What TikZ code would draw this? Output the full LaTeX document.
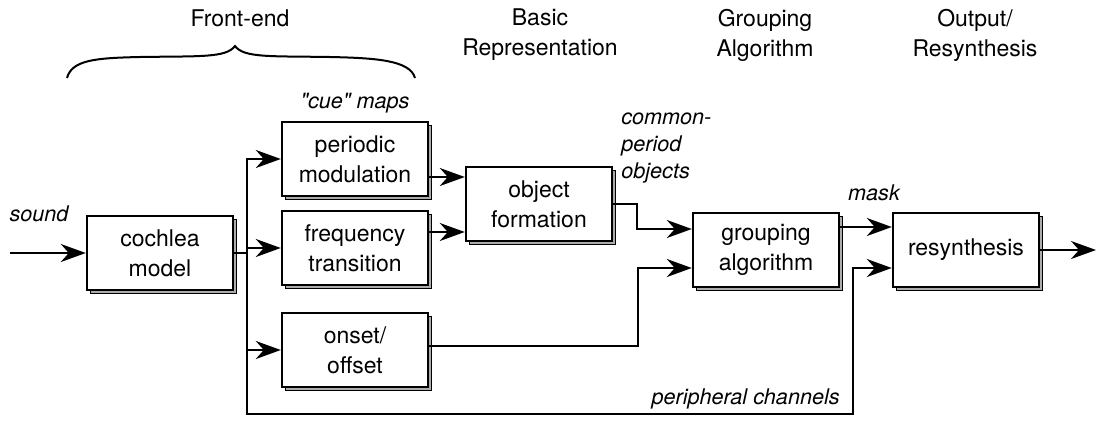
\documentclass[tikz,border=0pt]{standalone}
\usepackage{fontspec}
\setmainfont{TeX Gyre Heros}
\usetikzlibrary{arrows.meta,calc,shadows}

\tikzset{
  block/.style={draw, line width=1.2pt, fill=white, minimum width=73pt, minimum height=37pt,
    inner sep=2pt, align=center, font=\fontsize{11.5}{15}\selectfont,
    copy shadow={shadow xshift=1.6pt, shadow yshift=-1.6pt, fill=gray!65, draw=black, line width=0.7pt}},
  flow/.style={line width=0.9pt, -{Stealth[length=12.5pt,width=9pt,inset=4pt]}},
  wire/.style={line width=0.9pt},
  cue/.style={font=\fontsize{10.8}{13.5}\selectfont\itshape, align=left, inner sep=0pt},
  head/.style={font=\fontsize{11.5}{15}\selectfont, align=center, inner sep=0pt},
}

\begin{document}
\begin{tikzpicture}[x=0.5pt,y=-0.5pt]
\useasboundingbox (0,0) rectangle (1098,424);

%Boxes
\node[block] (cochlea) at (160,253) {cochlea\\model};
\node[block] (periodic) at (355,159) {periodic\\modulation};
\node[block] (freqtrans) at (355,248) {frequency\\transition};
\node[block] (onset) at (355,350) {onset/\\offset};
\node[block] (objform) at (539,204) {object\\formation};
\node[block] (grouping) at (766,250) {grouping\\algorithm};
\node[block] (resynth) at (966,250) {resynthesis};

%Free ends
\coordinate (soundin) at (10,253);
\coordinate (soundout) at (1096,250);
\coordinate (chan) at (853,414);

%Connectors
\draw[flow] (soundin) -- (cochlea.west);
\draw[wire] (cochlea.east) -- ++(13,0) coordinate (bus);
\draw[flow] (bus) |- (periodic.west);
\draw[flow] (bus) |- (freqtrans.west);
\draw[flow] (bus) |- (onset.west);
\draw[flow] (bus) |- (chan) |- ($(resynth.west)+(0,18)$);
\draw[flow] ($(periodic.east)+(0,18)$) coordinate (p1) -- (p1 -| objform.west);
\draw[flow] ($(freqtrans.east)+(0,-16)$) coordinate (f1) -- (f1 -| objform.west);
\draw[flow] (objform.east) -- ++(24,0) |- ($(grouping.west)+(0,-21)$);
\draw[flow] ([yshift=2pt]onset.east) -- ++(209,0) |- ($(grouping.west)+(0,18)$);
\draw[flow] ($(grouping.east)+(0,-23)$) coordinate (g1) -- (g1 -| resynth.west);
\draw[flow] (resynth.east) -- (soundout);

%Brace
\draw[line width=1pt] (67,78) .. controls (72,60) and (95,58) .. (140,57)
  .. controls (200,56) and (226,58) .. (235,46)
  .. controls (244,58) and (270,56) .. (330,57)
  .. controls (375,58) and (410,60) .. (415,78);

% Text Node
\node[head] (hdfront) at (240,18) {Front-end};
\node[head] (hdbasic) at (540,35) {Basic\\Representation};
\node[head] (hdgroup) at (765,35) {Grouping\\Algorithm};
\node[head] (hdout) at (975,35) {Output/\\Resynthesis};
% Text Node
\node[cue] (lbsound) at (39,214) {sound};
\node[cue] (lbcue) at (355,103) {\textquotedbl cue\textquotedbl{} maps};
\node[cue, anchor=west] (lbcommon) at (621,148) {common-\\period\\objects};
\node[cue] (lbmask) at (874,193) {mask};
\node[cue, anchor=east] (lbchan) at (840,399) {peripheral channels};

\end{tikzpicture}
\end{document}
